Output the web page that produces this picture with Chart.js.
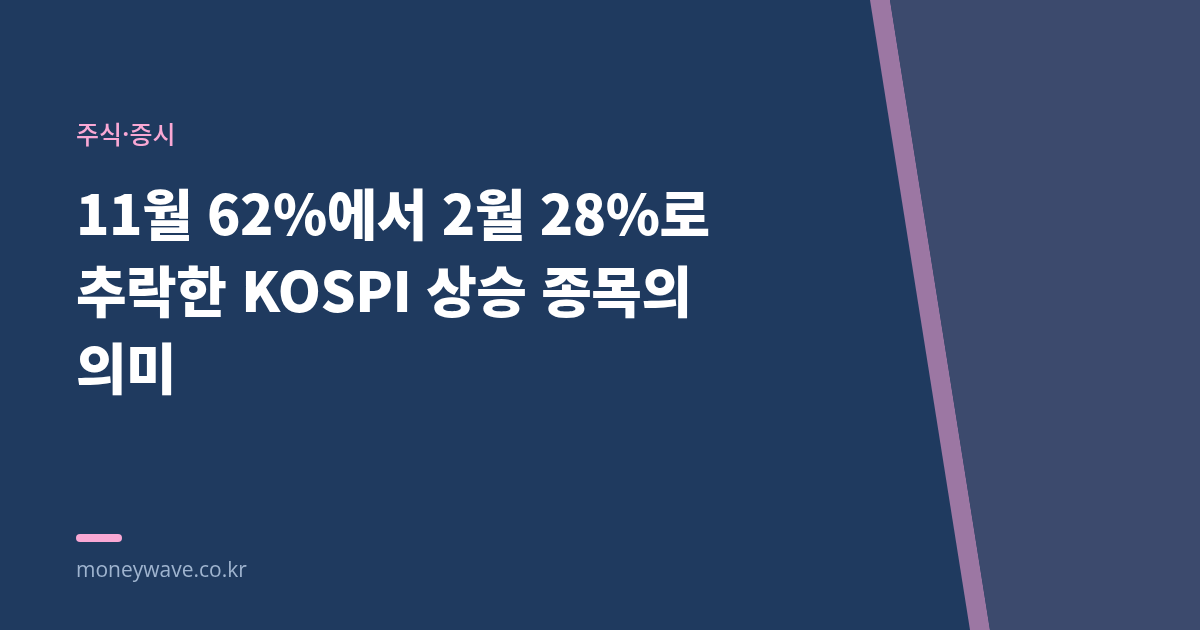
<!DOCTYPE html>
<html lang="ko">
<head>
<meta charset="utf-8">
<script src="https://cdn.jsdelivr.net/npm/chart.js"></script>
<style>
    html, body { margin: 0; padding: 0; }
    body { width: 1200px; height: 630px; overflow: hidden; background: #1f3a5f; position: relative;
        font-family: "Noto Sans CJK KR", "Noto Sans", sans-serif; }
    #bg-wrap { position: absolute; left: 0; top: 0; width: 1200px; height: 630px; }
    .category { position: absolute; left: 76px; top: 115px; font-size: 25px; color: #f9a8d4; font-weight: 500; }
    .title { position: absolute; left: 76px; top: 173px; font-size: 55px; line-height: 77px; font-weight: 900;
        color: #ffffff; letter-spacing: -0.5px; }
    .bar { position: absolute; left: 76px; top: 534px; width: 46px; height: 8px; border-radius: 4px; background: #f9a8d4; }
    .site { position: absolute; left: 76px; top: 555px; font-size: 21px; color: #9fb4cf; font-family: "Open Sans", "Noto Sans", sans-serif; }
</style>
</head>
<body>
<div id="bg-wrap"><canvas id="bg" width="1200" height="630"></canvas></div>
<div class="category" id="category"></div>
<div class="title" id="title"></div>
<div class="bar"></div>
<div class="site" id="site"></div>
<script>
const category = "주식·증시";
const titleLines = ["11월 62%에서 2월 28%로", "추락한 KOSPI 상승 종목의", "의미"];
const site = "moneywave.co.kr";

// diagonal stripe edges: [top x, bottom x]
const stripeLeft = [870, 970];
const stripeRight = [890, 990];

document.getElementById("category").textContent = category;
document.getElementById("title").innerHTML = titleLines.join("<br>");
document.getElementById("site").textContent = site;

function initBackground() {
    const ctx = document.getElementById("bg");
    new Chart(ctx, {
        type: "scatter",
        data: {
            datasets: [
                {
                    // right panel
                    data: [{ x: stripeRight[0], y: 0 }, { x: 1200, y: 0 }, { x: 1200, y: 630 }, { x: stripeRight[1], y: 630 }],
                    showLine: true,
                    borderWidth: 0,
                    borderColor: "rgba(0,0,0,0)",
                    pointRadius: 0,
                    backgroundColor: "#3c4a6d",
                    fill: "shape",
                },
                {
                    // purple stripe
                    data: [{ x: stripeLeft[0], y: 0 }, { x: stripeRight[0], y: 0 }, { x: stripeRight[1], y: 630 }, { x: stripeLeft[1], y: 630 }],
                    showLine: true,
                    borderWidth: 0,
                    borderColor: "rgba(0,0,0,0)",
                    pointRadius: 0,
                    backgroundColor: "#9c77a3",
                    fill: "shape",
                },
            ],
        },
        options: {
            responsive: false,
            animation: false,
            layout: { padding: 0 },
            plugins: { legend: { display: false }, tooltip: { enabled: false } },
            scales: {
                x: { type: "linear", min: 0, max: 1200, display: false },
                y: { type: "linear", min: 0, max: 630, reverse: true, display: false },
            },
        },
    });
}

initBackground();
</script>
</body>
</html>
